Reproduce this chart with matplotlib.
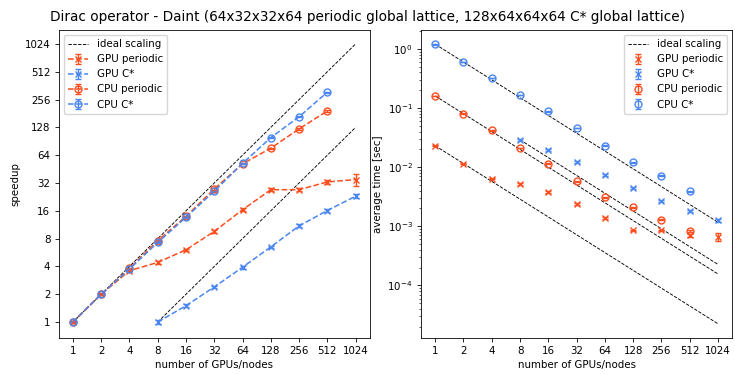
import numpy as np
import matplotlib
matplotlib.use('Agg')
import matplotlib.pyplot as plt

# the original was drawn larger and scaled down, so shrink everything a bit
sc = 0.735
plt.rcParams.update({
    'font.size': 10 * sc,
    'lines.linewidth': 1.5 * sc,
    'axes.linewidth': 0.8 * sc,
    'xtick.major.size': 3.5 * sc,
    'ytick.major.size': 3.5 * sc,
    'xtick.minor.size': 2 * sc,
    'ytick.minor.size': 2 * sc,
    'xtick.major.width': 0.8 * sc,
    'ytick.major.width': 0.8 * sc,
    'ytick.minor.width': 0.6 * sc,
    'legend.fontsize': 10 * sc,
    'axes.labelpad': 3,
})

red = '#fc4e1f'
blue = '#4a86f0'

nodes = [1, 2, 4, 8, 16, 32, 64, 128, 256, 512, 1024]
tick_labels = ['1', '2', '4', '8', '16', '32', '64', '128', '256', '512', '1024']

# average time per application [sec]
gpu_per_n = [1, 2, 4, 8, 16, 32, 64, 128, 256, 512, 1024]
gpu_per_t = [0.023, 0.0115, 0.0064, 0.0052, 0.0038, 0.0024, 0.0014, 0.00085, 0.00085, 0.0007, 0.00066]
gpu_per_e = [0.0006, 0.0003, 0.0002, 0.0002, 0.0001, 0.0001, 0.00005, 0.00003, 0.00003, 0.00004, 0.0001]

gpu_cs_n = [8, 16, 32, 64, 128, 256, 512, 1024]
gpu_cs_t = [0.029, 0.0193, 0.0121, 0.0074, 0.00446, 0.00264, 0.0018, 0.00126]
gpu_cs_e = [0.0012, 0.0007, 0.0004, 0.0003, 0.00015, 0.0001, 0.00008, 0.00006]

cpu_per_n = [1, 2, 4, 8, 16, 32, 64, 128, 256, 512]
cpu_per_t = [0.16, 0.08, 0.042, 0.021, 0.0115, 0.0058, 0.0031, 0.0021, 0.0013, 0.00083]
cpu_per_e = [0.002, 0.001, 0.0005, 0.0003, 0.0002, 0.0001, 0.00005, 0.00003, 0.00002, 0.00002]

cpu_cs_n = [1, 2, 4, 8, 16, 32, 64, 128, 256, 512]
cpu_cs_t = [1.2, 0.6, 0.32, 0.165, 0.088, 0.046, 0.023, 0.0121, 0.0072, 0.0039]
cpu_cs_e = [0.015, 0.008, 0.004, 0.002, 0.001, 0.0005, 0.0003, 0.0002, 0.0001, 0.00005]

series = [
    ('GPU periodic', gpu_per_n, gpu_per_t, gpu_per_e, red, 'x'),
    ('GPU C*', gpu_cs_n, gpu_cs_t, gpu_cs_e, blue, 'x'),
    ('CPU periodic', cpu_per_n, cpu_per_t, cpu_per_e, red, 'o'),
    ('CPU C*', cpu_cs_n, cpu_cs_t, cpu_cs_e, blue, 'o'),
]

fig, (ax1, ax2) = plt.subplots(1, 2, figsize=(7.35, 3.74), dpi=100)
fig.subplots_adjust(left=0.080, right=0.996, top=0.920, bottom=0.097, wspace=0.165)

# speedup
for (n0, last) in [(1, 1024), (8, 1024)]:
    xs = np.array([n0, last])
    ax1.plot(xs, xs / n0, 'k--', lw=0.65, label='ideal scaling' if n0 == 1 else None)
for label, n, t, e, c, m in series:
    t = np.array(t)
    e = np.array(e)
    s = t[0] / t
    se = s * e / t
    ax1.errorbar(n, s, yerr=se, color=c, marker=m, ls='--', ms=5, mfc='none',
                 capsize=2.2, elinewidth=1, label=label)
ax1.set_xscale('log', base=2)
ax1.set_yscale('log', base=2)
ax1.set_xticks(nodes)
ax1.set_xticklabels(tick_labels)
ax1.set_yticks([1, 2, 4, 8, 16, 32, 64, 128, 256, 512, 1024])
ax1.set_yticklabels(['1', '2', '4', '8', '16', '32', '64', '128', '256', '512', '1024'])
ax1.minorticks_off()
ax1.set_xlabel('number of GPUs/nodes')
ax1.set_ylabel('speedup')
ax1.legend(loc='upper left')

# time
for label, n, t, e, c, m in series:
    xs = np.array([n[0], 1024])
    ax2.plot(xs, t[0] * n[0] / xs, 'k--', lw=0.65,
             label='ideal scaling' if label == 'GPU periodic' else None)
for label, n, t, e, c, m in series:
    ax2.errorbar(n, t, yerr=e, color=c, marker=m, ls='none', ms=5, mfc='none',
                 capsize=2.2, elinewidth=1, label=label)
ax2.set_xscale('log', base=2)
ax2.set_yscale('log')
ax2.set_xticks(nodes)
ax2.set_xticklabels(tick_labels)
ax2.xaxis.set_minor_locator(matplotlib.ticker.NullLocator())
ax2.set_xlabel('number of GPUs/nodes')
ax2.set_ylabel('average time [sec]')
ax2.legend(loc='upper right')

fig.suptitle('Dirac operator - Daint (64x32x32x64 periodic global lattice, 128x64x64x64 C* global lattice)',
             fontsize=9.8, y=0.972)

plt.savefig('out.png', dpi=100)
